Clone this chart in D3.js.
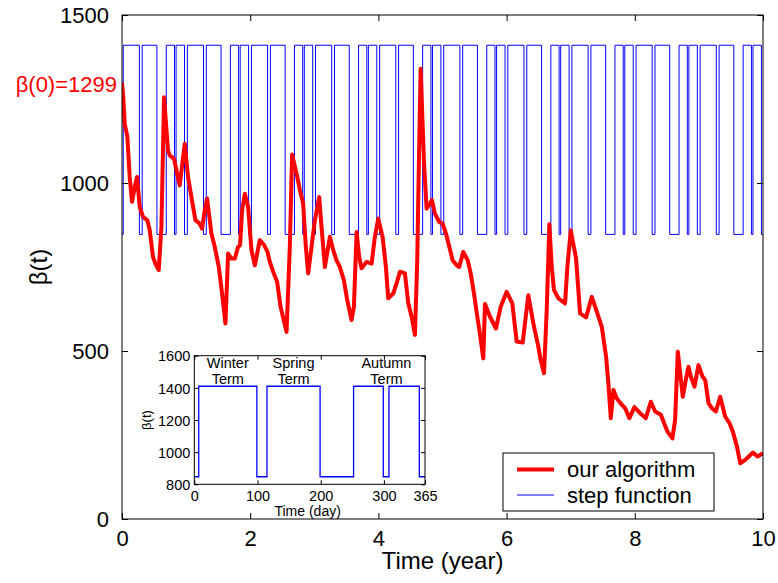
<!DOCTYPE html>
<html>
<head>
<meta charset="utf-8">
<script src="https://cdn.jsdelivr.net/npm/d3@7"></script>
<style>
  html, body { margin: 0; padding: 0; background: #fff; }
  svg { display: block; font-family: "Liberation Sans", Arial, sans-serif; }
</style>
</head>
<body>
<svg id="chart" width="778" height="583"></svg>
<script>
// ---------------- data ----------------
const algoTimes = [0,0.02,0.042,0.084,0.12,0.157,0.198,0.235,0.276,0.328,0.396,0.432,0.484,0.52,0.573,0.615,0.656,0.718,0.745,0.812,0.849,0.9,0.979,
  1.03,1.083,1.146,1.213,1.249,1.291,1.327,1.395,1.447,1.51,1.561,1.614,1.655,1.708,1.76,1.811,1.842,1.874,1.916,1.967,
  2.02,2.072,2.15,2.217,2.27,2.306,2.358,2.42,2.473,2.567,2.618,2.654,2.723,2.774,2.826,2.868,2.904,2.957,
  3.009,3.076,3.113,3.165,3.243,3.295,3.347,3.399,3.461,3.513,3.581,3.618,3.66,3.70,3.737,3.815,3.894,3.945,3.997,
  4.065,4.117,4.153,4.231,4.284,4.336,4.414,4.466,4.518,4.57,4.606,4.632,4.659,4.71,4.752,4.804,4.835,4.882,4.949,
  5.002,5.054,5.106,5.158,5.221,5.261,5.324,5.393,5.44,5.491,5.543,5.585,5.636,5.663,5.741,5.834,5.908,
  6.001,6.089,6.157,6.251,6.339,6.417,6.495,6.532,6.584,6.626,6.667,6.704,6.74,6.807,6.912,6.948,
  7.001,7.084,7.146,7.24,7.329,7.407,7.485,7.552,7.588,7.625,7.667,7.719,7.797,7.849,7.916,7.994,
  8.083,8.172,8.25,8.317,8.406,8.447,8.51,8.587,8.629,8.671,8.749,8.796,8.837,8.874,8.931,8.993,
  9.056,9.098,9.15,9.202,9.265,9.332,9.41,9.478,9.53,9.593,9.645,9.723,9.843,9.915,10];
const algoValues = [1299,1255,1176,1137,1018,944,988,1018,929,899,889,860,780,760,741,869,1255,1097,1082,1072,1038,993,1117,
  1018,958,889,879,864,919,954,850,810,750,671,582,790,775,775,810,815,919,968,929,
  800,755,830,815,795,765,736,706,632,557,810,1085,1028,980,939,810,731,810,
  889,958,869,750,840,800,770,750,711,652,592,632,854,780,746,765,760,840,894,
  840,750,657,671,701,736,731,642,602,548,770,1067,1340,1067,924,939,949,909,884,
  879,850,810,770,755,750,795,770,731,671,602,550,478,640,602,567,632,
  676,642,528,525,666,582,513,473,434,622,877,750,681,657,642,750,
  859,775,612,600,661,617,572,483,404,300,384,359,340,330,300,333,
  315,300,349,320,310,290,260,240,295,498,364,414,453,424,394,458,
  424,414,345,330,320,364,305,285,260,216,166,176,198,186,196];

// school-term schedule (days of year) used by the step function
const termNames = ["Winter", "Spring", "Autumn"];
const termStartDays = [7, 115, 252, 308];
const termEndDays = [99, 199, 299, 356];
const termLabelGroups = [[0], [1], [2, 3]]; // which term blocks each label covers
const stepHigh = 1410;
const stepLow = 847;
const simYears = [0,1,2,3,4,5,6,7,8,9];
const daysPerYear = 365;
const initialLabel = "β(0)=1299";
const initialValue = 1299;

const xTicks = [0, 2, 4, 6, 8, 10];
const yTicks = [0, 500, 1000, 1500];
const insetXTicks = [0, 100, 200, 300, 365];
const insetYTicks = [800, 1000, 1200, 1400, 1600];
const seriesNames = ["our algorithm", "step function"];

// ---------------- build step series from schedule ----------------
function scheduleOneYear(offset) {
  const pts = [[offset, stepLow]];
  for (let i = 0; i < termStartDays.length; i++) {
    pts.push([offset + termStartDays[i] / daysPerYear, stepHigh]);
    pts.push([offset + termEndDays[i] / daysPerYear, stepLow]);
  }
  return pts;
}
let stepPts = [];
simYears.forEach(y => { stepPts = stepPts.concat(scheduleOneYear(y)); });
stepPts.push([10, stepLow]);

let insetPts = [[0, stepLow]];
for (let i = 0; i < termStartDays.length; i++) {
  insetPts.push([termStartDays[i], stepHigh]);
  insetPts.push([termEndDays[i], stepLow]);
}
insetPts.push([365, stepLow]);

// ---------------- main chart ----------------
const svg = d3.select("#chart");
const L = 122, R = 763, T = 15, B = 519;
const x = d3.scaleLinear().domain([0, 10]).range([L, R]);
const y = d3.scaleLinear().domain([0, 1500]).range([B, T]);
const FS = 22;

svg.append("defs").append("clipPath").attr("id", "clipMain")
  .append("rect").attr("x", L).attr("y", T).attr("width", R - L).attr("height", B - T);

const plot = svg.append("g").attr("clip-path", "url(#clipMain)");

plot.append("path")
  .datum(stepPts)
  .attr("fill", "none")
  .attr("stroke", "#0000ff")
  .attr("stroke-width", 1)
  .attr("d", d3.line().x(d => x(d[0])).y(d => y(d[1])).curve(d3.curveStepAfter));

const algo = algoTimes.map((t, i) => [t, algoValues[i]]);
plot.append("path")
  .datum(algo)
  .attr("fill", "none")
  .attr("stroke", "#ff0000")
  .attr("stroke-width", 4)
  .attr("stroke-linejoin", "round")
  .attr("d", d3.line().x(d => x(d[0])).y(d => y(d[1])));

// frame
svg.append("rect").attr("x", L).attr("y", T).attr("width", R - L).attr("height", B - T)
  .attr("fill", "none").attr("stroke", "#000").attr("stroke-width", 1);

// axes with inward ticks
const axB = svg.append("g").attr("transform", `translate(0,${B})`)
  .call(d3.axisBottom(x).tickValues(xTicks).tickSize(-6).tickPadding(12).tickFormat(d3.format("d")));
const axT = svg.append("g").attr("transform", `translate(0,${T})`)
  .call(d3.axisTop(x).tickValues(xTicks).tickSize(-6).tickFormat(""));
const axL = svg.append("g").attr("transform", `translate(${L},0)`)
  .call(d3.axisLeft(y).tickValues(yTicks).tickSize(-6).tickPadding(13).tickFormat(d3.format("d")));
const axR = svg.append("g").attr("transform", `translate(${R},0)`)
  .call(d3.axisRight(y).tickValues(yTicks).tickSize(-6).tickFormat(""));
[axB, axT, axL, axR].forEach(a => {
  a.select(".domain").remove();
  a.selectAll("line").attr("stroke", "#000");
  a.selectAll("text").attr("font-size", FS).attr("fill", "#000")
    .attr("font-family", '"Liberation Sans", Arial, sans-serif');
});
axB.selectAll("text").attr("dy", null).attr("y", 27);
axL.selectAll("text").attr("dy", "0.36em");

// axis labels
svg.append("text").attr("x", (L + R) / 2).attr("y", 569).attr("text-anchor", "middle")
  .attr("font-size", 24).text("Time (year)");
svg.append("text").attr("transform", `translate(47,${(T + B) / 2}) rotate(-90)`)
  .attr("text-anchor", "middle").attr("font-size", 24).text("β(t)");

// initial value annotation
svg.append("text").attr("x", 117).attr("y", y(initialValue) + 9.5).attr("text-anchor", "end")
  .attr("font-size", FS).attr("fill", "#ff0000").text(initialLabel);

// legend
const lg = svg.append("g");
lg.append("rect").attr("x", 503).attr("y", 453).attr("width", 211).attr("height", 58)
  .attr("fill", "#fff").attr("stroke", "#000").attr("stroke-width", 1);
lg.append("line").attr("x1", 517).attr("x2", 554).attr("y1", 469.5).attr("y2", 469.5)
  .attr("stroke", "#ff0000").attr("stroke-width", 4);
lg.append("line").attr("x1", 517).attr("x2", 554).attr("y1", 495).attr("y2", 495)
  .attr("stroke", "#0000ff").attr("stroke-width", 1);
lg.append("text").attr("x", 567).attr("y", 477).attr("font-size", FS).text(seriesNames[0]);
lg.append("text").attr("x", 567).attr("y", 503).attr("font-size", FS).text(seriesNames[1]);

// ---------------- inset ----------------
const iL = 194.3, iR = 425, iT = 355.7, iB = 484.3;
const ix = d3.scaleLinear().domain([0, 365]).range([iL, iR]);
const iy = d3.scaleLinear().domain([800, 1600]).range([iB, iT]);
const IFS = 14.5;
const inset = svg.append("g");
inset.append("rect").attr("x", iL).attr("y", iT).attr("width", iR - iL).attr("height", iB - iT)
  .attr("fill", "#fff");
inset.append("path")
  .datum(insetPts)
  .attr("fill", "none").attr("stroke", "#0000ff").attr("stroke-width", 1.3)
  .attr("d", d3.line().x(d => ix(d[0])).y(d => iy(d[1])).curve(d3.curveStepAfter));
inset.append("rect").attr("x", iL).attr("y", iT).attr("width", iR - iL).attr("height", iB - iT)
  .attr("fill", "none").attr("stroke", "#000").attr("stroke-width", 1);

const iaB = inset.append("g").attr("transform", `translate(0,${iB})`)
  .call(d3.axisBottom(ix).tickValues(insetXTicks).tickSize(-4).tickPadding(4).tickFormat(d3.format("d")));
const iaT = inset.append("g").attr("transform", `translate(0,${iT})`)
  .call(d3.axisTop(ix).tickValues(insetXTicks).tickSize(-4).tickFormat(""));
const iaL = inset.append("g").attr("transform", `translate(${iL},0)`)
  .call(d3.axisLeft(iy).tickValues(insetYTicks).tickSize(-4).tickPadding(4).tickFormat(d3.format("d")));
const iaR = inset.append("g").attr("transform", `translate(${iR},0)`)
  .call(d3.axisRight(iy).tickValues(insetYTicks).tickSize(-4).tickFormat(""));
[iaB, iaT, iaL, iaR].forEach(a => {
  a.select(".domain").remove();
  a.selectAll("line").attr("stroke", "#000");
  a.selectAll("text").attr("font-size", IFS).attr("fill", "#000")
    .attr("font-family", '"Liberation Sans", Arial, sans-serif');
});
iaB.selectAll("text").attr("dy", null).attr("y", 16.5);
iaL.selectAll("text").attr("dy", "0.36em");

inset.append("text").attr("x", (iL + iR) / 2 - 2).attr("y", 516).attr("text-anchor", "middle")
  .attr("font-size", 14).text("Time (day)");
inset.append("text").attr("transform", `translate(151,${(iT + iB) / 2}) rotate(-90)`)
  .attr("text-anchor", "middle").attr("font-size", 13).text("β(t)");

termNames.forEach((name, i) => {
  const g = termLabelGroups[i];
  const mid = (termStartDays[g[0]] + termEndDays[g[g.length - 1]]) / 2;
  const t = inset.append("text").attr("text-anchor", "middle").attr("font-size", IFS);
  t.append("tspan").attr("x", ix(mid)).attr("y", 368).text(name);
  t.append("tspan").attr("x", ix(mid)).attr("y", 384).text("Term");
});
</script>
</body>
</html>
